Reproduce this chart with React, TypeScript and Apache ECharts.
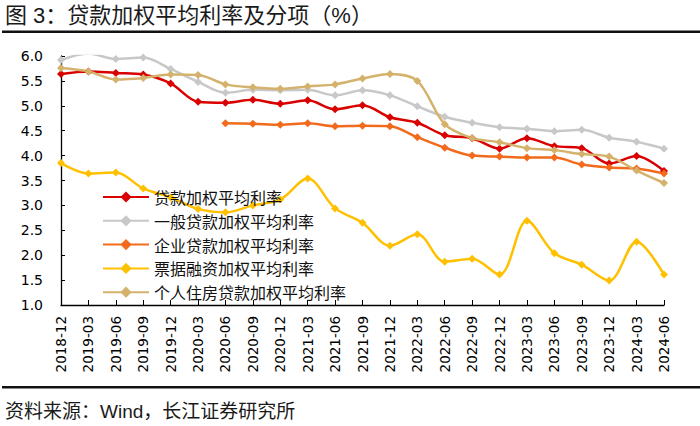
import React, { useEffect, useRef } from "react";
import * as echarts from "echarts";

const categories = [
  "2018-12", "2019-03", "2019-06", "2019-09", "2019-12", "2020-03", "2020-06", "2020-09",
  "2020-12", "2021-03", "2021-06", "2021-09", "2021-12", "2022-03", "2022-06", "2022-09",
  "2022-12", "2023-03", "2023-06", "2023-09", "2023-12", "2024-03", "2024-06",
];

const seriesNames = [
  "贷款加权平均利率",
  "一般贷款加权平均利率",
  "企业贷款加权平均利率",
  "票据融资加权平均利率",
  "个人住房贷款加权平均利率",
];

const loanAvg = [5.64, 5.69, 5.66, 5.63, 5.45, 5.08, 5.06, 5.12, 5.04, 5.11, 4.93, 5.01, 4.77, 4.66, 4.41, 4.35, 4.14, 4.35, 4.19, 4.15, 3.84, 3.99, 3.69];
const generalLoan = [5.92, 6.05, 5.94, 5.97, 5.74, 5.48, 5.26, 5.32, 5.31, 5.32, 5.21, 5.31, 5.21, 4.99, 4.78, 4.66, 4.57, 4.54, 4.49, 4.52, 4.36, 4.28, 4.14];
const corpLoan = [null, null, null, null, null, null, 4.65, 4.64, 4.62, 4.65, 4.59, 4.60, 4.59, 4.37, 4.16, 4.00, 3.98, 3.96, 3.96, 3.82, 3.76, 3.74, 3.64];
const billFinance = [3.85, 3.64, 3.66, 3.34, 3.16, 2.93, 2.86, 3.0, 3.12, 3.54, 2.94, 2.65, 2.19, 2.42, 1.87, 1.93, 1.61, 2.69, 2.04, 1.81, 1.49, 2.27, 1.61];
const mortgage = [5.76, 5.69, 5.53, 5.56, 5.63, 5.62, 5.43, 5.37, 5.34, 5.39, 5.43, 5.55, 5.64, 5.50, 4.63, 4.35, 4.27, 4.15, 4.11, 4.03, 3.98, 3.70, 3.45];

const colors = ["#D90000", "#C8C8C8", "#F26B1D", "#FFC000", "#D4B26C"];

const titleText = "图 3：贷款加权平均利率及分项（%）";
const sourceText = "资料来源：Wind，长江证券研究所";

export default function App() {
  const ref = useRef<HTMLDivElement>(null);
  useEffect(() => {
    if (!ref.current) return;
    const chart = echarts.init(ref.current, null, { renderer: "svg" });
    const datasets = [loanAvg, generalLoan, corpLoan, billFinance, mortgage];
    chart.setOption({
      animation: false,
      backgroundColor: "#ffffff",
      color: colors,
      grid: { left: 61, right: 36, top: 56, bottom: 121, containLabel: false },
      legend: {
        orient: "vertical",
        left: 102,
        top: 189,
        padding: 0,
        itemWidth: 46,
        itemHeight: 14,
        itemGap: 7.8,
        textStyle: {
          fontFamily: "Noto Sans CJK SC",
          fontSize: 16,
          color: "#111",
        },
        data: seriesNames,
      },
      xAxis: {
        type: "category",
        data: categories,
        boundaryGap: false,
        axisLine: { lineStyle: { color: "#000", width: 1.3 } },
        axisTick: { inside: true, length: 5, lineStyle: { color: "#000" } },
        axisLabel: {
          rotate: 90,
          interval: 0,
          margin: 11,
          fontFamily: "DejaVu Sans",
          fontSize: 13.5,
          color: "#000",
        },
        splitLine: { show: false },
      },
      yAxis: {
        type: "value",
        min: 1,
        max: 6,
        interval: 0.5,
        axisLine: { show: true, lineStyle: { color: "#000", width: 1.3 } },
        axisTick: { show: true, inside: true, length: 4, lineStyle: { color: "#000" } },
        axisLabel: {
          margin: 18,
          fontFamily: "DejaVu Sans",
          fontSize: 14,
          color: "#000",
          formatter: (v: number) => v.toFixed(1),
        },
        splitLine: { show: false },
      },
      series: seriesNames.map((name, i) => ({
        name,
        type: "line",
        data: datasets[i],
        smooth: 0.33,
        symbol: "diamond",
        symbolSize: 8,
        showSymbol: true,
        connectNulls: false,
        lineStyle: { width: 2.5, color: colors[i] },
        itemStyle: { color: colors[i] },
      })),
      graphic: [
        {
          type: "text",
          left: 5,
          top: 4,
          style: {
            text: titleText,
            fontFamily: "Liberation Sans, Noto Sans CJK SC",
            fontSize: 22,
            fill: "#1a1a1a",
          },
        },
        {
          type: "rect",
          shape: { x: 2, y: 30.5, width: 698, height: 2.5 },
          style: { fill: "#111" },
        },
        {
          type: "rect",
          shape: { x: 2, y: 386, width: 698, height: 2.5 },
          style: { fill: "#111" },
        },
        {
          type: "text",
          left: 5,
          top: 402,
          style: {
            text: sourceText,
            fontFamily: "Liberation Sans, Noto Sans CJK SC",
            fontSize: 19,
            fill: "#1a1a1a",
          },
        },
      ],
    });
    return () => chart.dispose();
  }, []);
  return (
    <div
      ref={ref}
      style={{ position: "fixed", left: 0, top: 0, width: 700, height: 426, background: "#fff" }}
    />
  );
}
